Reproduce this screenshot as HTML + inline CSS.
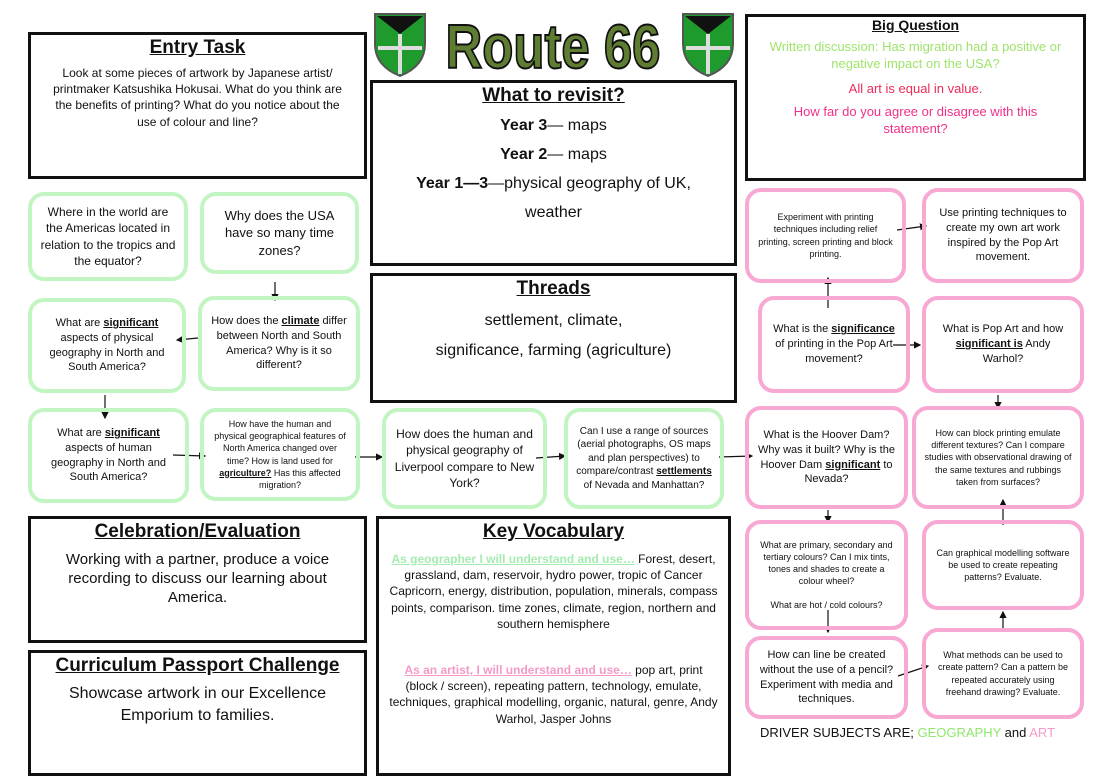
<!DOCTYPE html>
<html><head><meta charset="utf-8"><style>
body{margin:0;width:1113px;height:783px;background:#fff;position:relative;overflow:hidden;font-family:"Liberation Sans",sans-serif;color:#111}
.b{position:absolute;border:3px solid #111;box-sizing:border-box;text-align:center}
.g,.p{position:absolute;box-sizing:border-box;border:4px solid #c3f5c3;border-radius:16px;display:flex;align-items:center;justify-content:center;text-align:center;font-size:11px;line-height:1.35;padding:4px 8px}
.p{border-color:#f7a8d3}
.h{font-weight:bold;text-decoration:underline;font-size:19px;margin-top:2px}
u{font-weight:bold}
.s{font-size:9px}
svg{position:absolute;left:0;top:0}
</style></head><body>
<svg width="1113" height="783">
<defs><marker id="a" markerWidth="6" markerHeight="6" refX="5" refY="3" orient="auto"><path d="M0,0L6,3L0,6z" fill="#111"/></marker></defs>
<g>
<path d="M375,14h50v30q0,22-25,32q-25-10-25-32z" fill="#1f9b2e" stroke="#555" stroke-width="2"/>
<path d="M377,16h46l-23,18z" fill="#111"/><rect x="398" y="34" width="4" height="40" fill="#ddd"/><rect x="378" y="46" width="44" height="4" fill="#ddd"/>
<path d="M683,14h50v30q0,22-25,32q-25-10-25-32z" fill="#1f9b2e" stroke="#555" stroke-width="2"/>
<path d="M685,16h46l-23,18z" fill="#111"/><rect x="706" y="34" width="4" height="40" fill="#ddd"/><rect x="686" y="46" width="44" height="4" fill="#ddd"/>
<text x="553" y="68" text-anchor="middle" font-family="Liberation Sans" font-weight="bold" font-size="62" fill="#5f7d32" stroke="#111" stroke-width="2" textLength="215" lengthAdjust="spacingAndGlyphs">Route 66</text>
</g>
<g stroke="#111" stroke-width="1.2" fill="none" marker-end="url(#a)">
<line x1="275" y1="282" x2="275" y2="300"/>
<line x1="198" y1="338" x2="177" y2="340"/>
<line x1="105" y1="395" x2="105" y2="418"/>
<line x1="173" y1="455" x2="205" y2="456"/>
<line x1="355" y1="457" x2="382" y2="457"/>
<line x1="536" y1="458" x2="565" y2="456"/>
<line x1="719" y1="457" x2="752" y2="456"/>
<line x1="828" y1="308" x2="828" y2="278"/>
<line x1="893" y1="345" x2="920" y2="345"/>
<line x1="897" y1="230" x2="926" y2="226"/>
<line x1="998" y1="395" x2="998" y2="408"/>
<line x1="828" y1="510" x2="828" y2="522"/>
<line x1="828" y1="610" x2="828" y2="632"/>
<line x1="898" y1="676" x2="928" y2="666"/>
<line x1="1003" y1="630" x2="1003" y2="612"/>
<line x1="1003" y1="525" x2="1003" y2="500"/>
</g>
</svg>
<div class="b" style="left:28px;top:32px;width:339px;height:147px"><div class="h">Entry Task</div><div style="font-size:12px;line-height:1.35;padding:6px 14px">Look at some pieces of artwork by Japanese artist/ printmaker Katsushika Hokusai. What do you think are the benefits of printing? What do you notice about the use of colour and line?</div></div>
<div class="b" style="left:370px;top:80px;width:367px;height:186px"><div class="h">What to revisit?</div><div style="font-size:16px;line-height:29px;margin-top:4px"><b>Year 3</b>— maps<br><b>Year 2</b>— maps<br><b>Year 1—3</b>—physical geography of UK,<br><span style="line-height:16px">weather</span></div></div>
<div class="b" style="left:745px;top:14px;width:341px;height:167px"><div style="font-weight:bold;text-decoration:underline;font-size:14px">Big Question</div><div style="font-size:13px;line-height:1.3;margin-top:6px;color:#9ee36a">Written discussion: Has migration had a positive or negative impact on the USA?</div><div style="font-size:13px;color:#ee2a5a;margin-top:8px">All art is equal in value.</div><div style="font-size:13px;color:#f0308a;margin-top:8px;line-height:1.3;padding:0 20px">How far do you agree or disagree with this statement?</div></div>
<div class="b" style="left:370px;top:273px;width:367px;height:130px"><div class="h">Threads</div><div style="font-size:16px;line-height:30px;margin-top:6px">settlement, climate,<br>significance, farming (agriculture)</div></div>
<div class="b" style="left:28px;top:516px;width:339px;height:127px"><div class="h">Celebration/Evaluation</div><div style="font-size:15px;line-height:1.25;margin-top:8px;padding:0 18px">Working with a partner, produce a voice recording to discuss our learning about America.</div></div>
<div class="b" style="left:28px;top:650px;width:339px;height:126px"><div class="h">Curriculum Passport Challenge</div><div style="font-size:16px;line-height:1.4;margin-top:6px">Showcase artwork in our Excellence Emporium to families.</div></div>
<div class="b" style="left:376px;top:516px;width:355px;height:260px"><div class="h">Key Vocabulary</div><div style="font-size:12px;line-height:1.35;text-align:center;padding:8px 8px 0"><b style="color:#a4ecb0;text-decoration:underline">As geographer I will understand and use…</b> Forest, desert, grassland, dam, reservoir, hydro power, tropic of Cancer Capricorn, energy, distribution, population, minerals, compass points, comparison. time zones, climate, region, northern and southern hemisphere</div><div style="font-size:12px;line-height:1.35;padding:30px 8px 0"><b style="color:#f59ac8;text-decoration:underline">As an artist, I will understand and use…</b> pop art, print (block / screen), repeating pattern, technology, emulate, techniques, graphical modelling, organic, natural, genre, Andy Warhol, Jasper Johns</div></div>
<div class="g" style="left:28px;top:192px;width:160px;height:89px;font-size:12px"><div>Where in the world are the Americas located in relation to the tropics and the equator?</div></div>
<div class="g" style="left:200px;top:192px;width:159px;height:82px;font-size:13px"><div>Why does the USA have so many time zones?</div></div>
<div class="g" style="left:28px;top:298px;width:158px;height:95px"><div>What are <u>significant</u> aspects of physical geography in North and South America?</div></div>
<div class="g" style="left:198px;top:296px;width:162px;height:95px"><div>How does the <u>climate</u> differ between North and South America? Why is it so different?</div></div>
<div class="g" style="left:28px;top:408px;width:161px;height:95px"><div>What are <u>significant</u> aspects of human geography in North and South America?</div></div>
<div class="g s" style="left:200px;top:408px;width:160px;height:93px"><div>How have the human and physical geographical features of North America changed over time? How is land used for <u>agriculture?</u> Has this affected migration?</div></div>
<div class="g" style="left:382px;top:408px;width:165px;height:101px;font-size:12px"><div>How does the human and physical geography of Liverpool compare to New York?</div></div>
<div class="g" style="left:564px;top:408px;width:160px;height:101px;font-size:10px"><div>Can I use a range of sources (aerial photographs, OS maps and plan perspectives) to compare/contrast <u>settlements</u> of Nevada and Manhattan?</div></div>
<div class="p s" style="left:745px;top:188px;width:161px;height:95px"><div>Experiment with printing techniques including relief printing, screen printing and block printing.</div></div>
<div class="p" style="left:922px;top:188px;width:162px;height:95px"><div>Use printing techniques to create my own art work inspired by the Pop Art movement.</div></div>
<div class="p" style="left:758px;top:296px;width:152px;height:97px"><div>What is the <u>significance</u> of printing in the Pop Art movement?</div></div>
<div class="p" style="left:922px;top:296px;width:162px;height:97px"><div>What is Pop Art and how <u>significant is</u> Andy Warhol?</div></div>
<div class="p" style="left:745px;top:406px;width:163px;height:103px"><div>What is the Hoover Dam? Why was it built? Why is the Hoover Dam <u>significant</u> to Nevada?</div></div>
<div class="p s" style="left:912px;top:406px;width:172px;height:103px"><div>How can block printing emulate different textures? Can I compare studies with observational drawing of the same textures and rubbings taken from surfaces?</div></div>
<div class="p s" style="left:745px;top:520px;width:163px;height:110px"><div>What are primary, secondary and tertiary colours? Can I mix tints, tones and shades to create a colour wheel?<br><br>What are hot / cold colours?</div></div>
<div class="p s" style="left:922px;top:520px;width:162px;height:90px"><div>Can graphical modelling software be used to create repeating patterns? Evaluate.</div></div>
<div class="p" style="left:745px;top:636px;width:163px;height:83px"><div>How can line be created without the use of a pencil? Experiment with media and techniques.</div></div>
<div class="p s" style="left:922px;top:628px;width:162px;height:91px"><div>What methods can be used to create pattern? Can a pattern be repeated accurately using freehand drawing? Evaluate.</div></div>
<div style="position:absolute;left:760px;top:725px;font-size:13px">DRIVER SUBJECTS ARE; <span style="color:#8ee86a">GEOGRAPHY</span> and <span style="color:#f59ac8">ART</span></div>
</body></html>
